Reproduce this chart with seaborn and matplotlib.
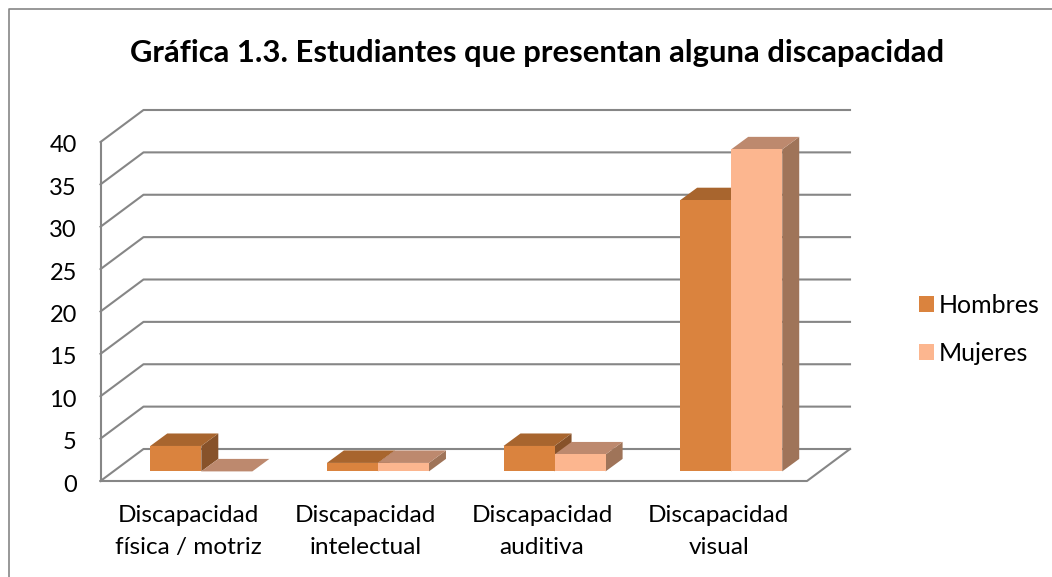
import matplotlib
matplotlib.use("Agg")
import matplotlib.pyplot as plt
from matplotlib.patches import Polygon, Patch
from matplotlib.lines import Line2D
from matplotlib.transforms import ScaledTranslation
import pandas as pd
import seaborn as sns

# ---- data ----
title = "Gráfica 1.3. Estudiantes que presentan alguna discapacidad"
categories = ["Discapacidad\nfísica / motriz", "Discapacidad\nintelectual",
              "Discapacidad\nauditiva", "Discapacidad\nvisual"]
hombres = [3, 1, 3, 32]
mujeres = [0, 1, 2, 38]
series_names = ["Hombres", "Mujeres"]
y_ticks = [0, 5, 10, 15, 20, 25, 30, 35, 40]

# ---- style ----
W, H = 1052, 577
FONT = "Lato"
GRID = "#868686"
FRONT = ["#DA833E", "#FCB68F"]
TOP = ["#A8652E", "#BD896E"]
SIDE = ["#87522A", "#9F7459"]

sns.set_theme(style="white")
plt.rcParams["font.family"] = [FONT, "DejaVu Sans"]

fig = plt.figure(figsize=(W / 100, H / 100), dpi=100, facecolor="white")
# axes rectangle = front plane of the 3D box
L, R, T, B = 100.5, 807, 142, 481
ax = fig.add_axes([L / W, 1 - B / H, (R - L) / W, (B - T) / H])

df = pd.DataFrame({
    "cat": categories * 2,
    "val": hombres + mujeres,
    "serie": [series_names[0]] * 4 + [series_names[1]] * 4,
})
sns.barplot(data=df, x="cat", y="val", hue="serie", hue_order=series_names,
            palette=FRONT, width=102 / 176.5, gap=0, saturation=1, errorbar=None,
            legend=False, ax=ax)
ax.set_xlim(-0.5, 3.5)
ax.set_ylim(0, 40)
ax.set_xlabel("")
ax.set_ylabel("")
ax.set_facecolor("none")
sns.despine(ax=ax, left=True, bottom=True)

px_x = (R - L) / 4     # pixels per category
px_y = (B - T) / 40    # pixels per unit


def dx(p):
    return p / px_x


def dy(p):
    return p / px_y


# back wall and floor
x0, x1 = -0.5, 3.5
wx, wy = dx(43), dy(32)
line_kw = dict(color=GRID, lw=1.5, clip_on=False, zorder=1, solid_capstyle="projecting")
for v in y_ticks:
    ax.add_line(Line2D([x0, x0 + wx, x1 + wx], [v, v + wy, v + wy], **line_kw))
ax.add_line(Line2D([x0, x0], [0, 40], **line_kw))
ax.add_line(Line2D([x0, x1, x1 + wx], [0, 0, wy], **line_kw))

# bars: seaborn's front faces moved into the box, then side and top faces
sx, sy = dx(12.5), dy(9.6)
bx, by = dx(17), dy(12.5)
z = 2
for i, cont in enumerate(ax.containers):
    for bar in cont:
        bar.set_x(bar.get_x() + sx)
        bar.set_y(sy)
        bar.set_clip_on(False)
        bar.set_linewidth(0)
        a, w, h = bar.get_x(), bar.get_width(), bar.get_height()
        b = a + w
        y0, y1 = sy, sy + h
        if h > 0:
            ax.add_patch(Polygon([(b, y0), (b + bx, y0 + by), (b + bx, y1 + by), (b, y1)],
                                 closed=True, fc=SIDE[i], lw=0, clip_on=False, zorder=z))
        ax.add_patch(Polygon([(a, y1), (a + bx, y1 + by), (b + bx, y1 + by), (b, y1)],
                             closed=True, fc=TOP[i], lw=0, clip_on=False, zorder=z))
        bar.set_zorder(z + 0.5)

# ticks
ax.set_yticks(y_ticks)
ax.set_yticklabels([str(v) for v in y_ticks])
ax.tick_params(axis="y", length=0, pad=17, labelsize=17, colors="black")
ax.tick_params(axis="x", length=0, pad=17, labelsize=17.6, colors="black")
shift = ScaledTranslation(0, -2 / 100, fig.dpi_scale_trans)
for t in ax.get_yticklabels():
    t.set_transform(t.get_transform() + shift)
for t in ax.get_xticklabels():
    t.set_linespacing(1.66)

# title, frame, legend
fig.text(537 / W, 1 - 53 / H, title, ha="center", va="center", fontsize=22.3,
         fontweight="bold", color="black")
fig.add_artist(Line2D([8.5 / W, 8.5 / W, 1], [0, 1 - 8.5 / H, 1 - 8.5 / H],
                      color=GRID, lw=1.2, transform=fig.transFigure))
handles = [Patch(fc=FRONT[i], lw=0, label=series_names[i]) for i in range(2)]
fig.legend(handles=handles, loc="center left", bbox_to_anchor=(919 / W, 1 - 329.5 / H),
           frameon=False, fontsize=18, handlelength=0.6, handleheight=0.6,
           handletextpad=0.19, labelspacing=1.01, borderpad=0, borderaxespad=0,
           labelcolor="black")

fig.savefig("out.png", dpi=100, facecolor="white")
